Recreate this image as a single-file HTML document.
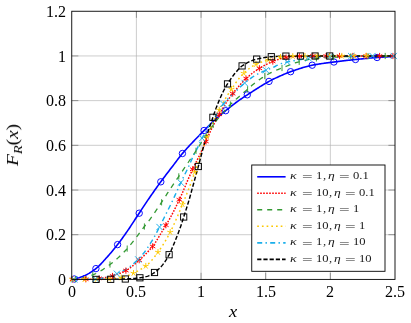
<!DOCTYPE html>
<html><head><meta charset="utf-8"><title>chart</title>
<style>
html,body{margin:0;padding:0;background:#fff;}
body{width:411px;height:323px;position:relative;overflow:hidden;font-family:"Liberation Serif",serif;color:#000;}
.t{position:absolute;font-size:16px;line-height:16px;white-space:nowrap;will-change:transform;}
.xt{transform:translateX(-50%);top:283.7px;}
.yt{text-align:right;width:60px;left:5.5px;}
.lg{position:absolute;font-size:10.5px;line-height:12px;white-space:nowrap;transform-origin:0 50%;will-change:transform;color:#1a1a1a;}
i{font-style:italic;}
</style></head><body>
<svg width="411" height="323" viewBox="0 0 411 323" style="position:absolute;left:0;top:0">
<path d="M136.40 11.25V279.4M201.05 11.25V279.4M265.70 11.25V279.4M330.35 11.25V279.4M71.75 234.71H395.0M71.75 190.02H395.0M71.75 145.32H395.0M71.75 100.63H395.0M71.75 55.94H395.0" stroke="#b2b2b2" stroke-width="0.66" fill="none"/>
<path d="M136.40 279.4v-6.6M136.40 11.25v6.6M201.05 279.4v-6.6M201.05 11.25v6.6M265.70 279.4v-6.6M265.70 11.25v6.6M330.35 279.4v-6.6M330.35 11.25v6.6M71.75 234.71h6.6M395.0 234.71h-6.6M71.75 190.02h6.6M395.0 190.02h-6.6M71.75 145.32h6.6M395.0 145.32h-6.6M71.75 100.63h6.6M395.0 100.63h-6.6M71.75 55.94h6.6M395.0 55.94h-6.6" stroke="#000" stroke-width="0.34" fill="none"/>
<clipPath id="c"><rect x="71.75" y="11.25" width="323.25" height="268.15"/></clipPath>
<g clip-path="url(#c)" fill="none">
<path d="M72.0 279.40 L73.0 279.24 L74.0 279.06 L75.0 278.84 L76.0 278.60 L77.0 278.33 L78.0 278.04 L79.0 277.73 L80.0 277.39 L81.0 277.03 L82.0 276.66 L83.0 276.27 L84.0 275.85 L85.0 275.43 L86.0 274.96 L87.0 274.46 L88.0 273.92 L89.0 273.34 L90.0 272.73 L91.0 272.09 L92.0 271.43 L93.0 270.73 L94.0 270.01 L95.0 269.27 L96.0 268.50 L97.0 267.69 L98.0 266.81 L99.0 265.87 L100.0 264.87 L101.0 263.84 L102.0 262.77 L103.0 261.68 L104.0 260.57 L105.0 259.45 L106.0 258.32 L107.0 257.21 L108.0 256.10 L109.0 254.97 L110.0 253.82 L111.0 252.65 L112.0 251.47 L113.0 250.28 L114.0 249.06 L115.0 247.83 L116.0 246.58 L117.0 245.32 L118.0 244.04 L119.0 242.74 L120.0 241.41 L121.0 240.07 L122.0 238.70 L123.0 237.31 L124.0 235.90 L125.0 234.49 L126.0 233.06 L127.0 231.62 L128.0 230.17 L129.0 228.69 L130.0 227.19 L131.0 225.68 L132.0 224.16 L133.0 222.63 L134.0 221.10 L135.0 219.56 L136.0 218.03 L137.0 216.49 L138.0 214.97 L139.0 213.45 L140.0 211.94 L141.0 210.43 L142.0 208.92 L143.0 207.40 L144.0 205.89 L145.0 204.38 L146.0 202.87 L147.0 201.38 L148.0 199.90 L149.0 198.43 L150.0 196.97 L151.0 195.53 L152.0 194.09 L153.0 192.67 L154.0 191.25 L155.0 189.83 L156.0 188.43 L157.0 187.03 L158.0 185.65 L159.0 184.27 L160.0 182.89 L161.0 181.53 L162.0 180.17 L163.0 178.83 L164.0 177.49 L165.0 176.17 L166.0 174.85 L167.0 173.53 L168.0 172.22 L169.0 170.92 L170.0 169.61 L171.0 168.31 L172.0 167.00 L173.0 165.69 L174.0 164.36 L175.0 163.04 L176.0 161.71 L177.0 160.39 L178.0 159.07 L179.0 157.78 L180.0 156.51 L181.0 155.27 L182.0 154.06 L183.0 152.88 L184.0 151.72 L185.0 150.57 L186.0 149.44 L187.0 148.33 L188.0 147.23 L189.0 146.14 L190.0 145.06 L191.0 143.99 L192.0 142.93 L193.0 141.88 L194.0 140.83 L195.0 139.80 L196.0 138.77 L197.0 137.74 L198.0 136.72 L199.0 135.70 L200.0 134.68 L201.0 133.66 L202.0 132.65 L203.0 131.63 L204.0 130.61 L205.0 129.59 L206.0 128.56 L207.0 127.54 L208.0 126.52 L209.0 125.50 L210.0 124.50 L211.0 123.50 L212.0 122.52 L213.0 121.56 L214.0 120.61 L215.0 119.69 L216.0 118.79 L217.0 117.91 L218.0 117.05 L219.0 116.20 L220.0 115.37 L221.0 114.54 L222.0 113.72 L223.0 112.91 L224.0 112.10 L225.0 111.29 L226.0 110.49 L227.0 109.67 L228.0 108.86 L229.0 108.04 L230.0 107.23 L231.0 106.42 L232.0 105.62 L233.0 104.82 L234.0 104.04 L235.0 103.26 L236.0 102.51 L237.0 101.77 L238.0 101.05 L239.0 100.35 L240.0 99.66 L241.0 98.98 L242.0 98.31 L243.0 97.65 L244.0 97.00 L245.0 96.35 L246.0 95.70 L247.0 95.06 L248.0 94.41 L249.0 93.76 L250.0 93.11 L251.0 92.46 L252.0 91.81 L253.0 91.16 L254.0 90.51 L255.0 89.87 L256.0 89.22 L257.0 88.58 L258.0 87.95 L259.0 87.32 L260.0 86.69 L261.0 86.07 L262.0 85.46 L263.0 84.85 L264.0 84.25 L265.0 83.66 L266.0 83.08 L267.0 82.51 L268.0 81.96 L269.0 81.41 L270.0 80.87 L271.0 80.35 L272.0 79.83 L273.0 79.33 L274.0 78.84 L275.0 78.35 L276.0 77.88 L277.0 77.41 L278.0 76.95 L279.0 76.50 L280.0 76.05 L281.0 75.61 L282.0 75.17 L283.0 74.73 L284.0 74.31 L285.0 73.88 L286.0 73.47 L287.0 73.07 L288.0 72.67 L289.0 72.29 L290.0 71.92 L291.0 71.56 L292.0 71.21 L293.0 70.87 L294.0 70.52 L295.0 70.17 L296.0 69.83 L297.0 69.49 L298.0 69.16 L299.0 68.83 L300.0 68.51 L301.0 68.19 L302.0 67.88 L303.0 67.58 L304.0 67.28 L305.0 67.00 L306.0 66.72 L307.0 66.45 L308.0 66.20 L309.0 65.95 L310.0 65.71 L311.0 65.49 L312.0 65.28 L313.0 65.08 L314.0 64.89 L315.0 64.71 L316.0 64.53 L317.0 64.36 L318.0 64.19 L319.0 64.03 L320.0 63.88 L321.0 63.73 L322.0 63.58 L323.0 63.44 L324.0 63.30 L325.0 63.16 L326.0 63.02 L327.0 62.89 L328.0 62.76 L329.0 62.63 L330.0 62.50 L331.0 62.37 L332.0 62.25 L333.0 62.12 L334.0 61.99 L335.0 61.86 L336.0 61.73 L337.0 61.60 L338.0 61.48 L339.0 61.36 L340.0 61.24 L341.0 61.12 L342.0 61.00 L343.0 60.88 L344.0 60.76 L345.0 60.65 L346.0 60.53 L347.0 60.42 L348.0 60.31 L349.0 60.20 L350.0 60.09 L351.0 59.98 L352.0 59.88 L353.0 59.77 L354.0 59.67 L355.0 59.56 L356.0 59.46 L357.0 59.36 L358.0 59.25 L359.0 59.15 L360.0 59.05 L361.0 58.95 L362.0 58.85 L363.0 58.75 L364.0 58.65 L365.0 58.55 L366.0 58.45 L367.0 58.36 L368.0 58.26 L369.0 58.17 L370.0 58.08 L371.0 57.99 L372.0 57.90 L373.0 57.82 L374.0 57.74 L375.0 57.66 L376.0 57.58 L377.0 57.51 L378.0 57.44 L379.0 57.36 L380.0 57.29 L381.0 57.23 L382.0 57.16 L383.0 57.09 L384.0 57.03 L385.0 56.96 L386.0 56.90 L387.0 56.84 L388.0 56.78 L389.0 56.73 L390.0 56.67 L391.0 56.62 L392.0 56.56 L393.0 56.51 L394.0 56.46 L395.0 56.42 L395.4 56.40" stroke="#0000ff" stroke-width="1.6"/>
<path d="M72.0 279.40 L73.0 279.40 L74.0 279.40 L75.0 279.39 L76.0 279.39 L77.0 279.38 L78.0 279.38 L79.0 279.37 L80.0 279.36 L81.0 279.35 L82.0 279.34 L83.0 279.32 L84.0 279.31 L85.0 279.29 L86.0 279.28 L87.0 279.26 L88.0 279.24 L89.0 279.22 L90.0 279.20 L91.0 279.17 L92.0 279.12 L93.0 279.05 L94.0 278.97 L95.0 278.87 L96.0 278.77 L97.0 278.65 L98.0 278.54 L99.0 278.42 L100.0 278.30 L101.0 278.18 L102.0 278.05 L103.0 277.90 L104.0 277.75 L105.0 277.59 L106.0 277.41 L107.0 277.23 L108.0 277.03 L109.0 276.82 L110.0 276.60 L111.0 276.36 L112.0 276.10 L113.0 275.82 L114.0 275.52 L115.0 275.20 L116.0 274.86 L117.0 274.51 L118.0 274.13 L119.0 273.74 L120.0 273.33 L121.0 272.90 L122.0 272.45 L123.0 271.99 L124.0 271.51 L125.0 271.02 L126.0 270.51 L127.0 269.97 L128.0 269.38 L129.0 268.72 L130.0 268.02 L131.0 267.27 L132.0 266.48 L133.0 265.65 L134.0 264.81 L135.0 263.94 L136.0 263.06 L137.0 262.18 L138.0 261.30 L139.0 260.43 L140.0 259.54 L141.0 258.62 L142.0 257.68 L143.0 256.71 L144.0 255.72 L145.0 254.71 L146.0 253.69 L147.0 252.66 L148.0 251.63 L149.0 250.57 L150.0 249.48 L151.0 248.35 L152.0 247.17 L153.0 245.92 L154.0 244.58 L155.0 243.12 L156.0 241.56 L157.0 239.93 L158.0 238.25 L159.0 236.58 L160.0 234.92 L161.0 233.30 L162.0 231.67 L163.0 230.04 L164.0 228.39 L165.0 226.73 L166.0 225.07 L167.0 223.40 L168.0 221.73 L169.0 220.00 L170.0 218.19 L171.0 216.34 L172.0 214.46 L173.0 212.55 L174.0 210.60 L175.0 208.62 L176.0 206.61 L177.0 204.57 L178.0 202.50 L179.0 200.40 L180.0 198.27 L181.0 196.07 L182.0 193.79 L183.0 191.45 L184.0 189.08 L185.0 186.70 L186.0 184.31 L187.0 181.95 L188.0 179.64 L189.0 177.37 L190.0 175.13 L191.0 172.90 L192.0 170.70 L193.0 168.55 L194.0 166.45 L195.0 164.42 L196.0 162.42 L197.0 160.42 L198.0 158.38 L199.0 156.34 L200.0 154.29 L201.0 152.23 L202.0 150.15 L203.0 148.04 L204.0 145.90 L205.0 143.72 L206.0 141.43 L207.0 139.09 L208.0 136.72 L209.0 134.38 L210.0 132.12 L211.0 129.98 L212.0 127.95 L213.0 125.99 L214.0 124.08 L215.0 122.20 L216.0 120.34 L217.0 118.51 L218.0 116.71 L219.0 114.95 L220.0 113.21 L221.0 111.47 L222.0 109.74 L223.0 108.02 L224.0 106.34 L225.0 104.68 L226.0 103.07 L227.0 101.51 L228.0 100.00 L229.0 98.56 L230.0 97.18 L231.0 95.83 L232.0 94.53 L233.0 93.25 L234.0 91.99 L235.0 90.76 L236.0 89.56 L237.0 88.38 L238.0 87.22 L239.0 86.08 L240.0 84.95 L241.0 83.82 L242.0 82.71 L243.0 81.61 L244.0 80.55 L245.0 79.54 L246.0 78.59 L247.0 77.69 L248.0 76.82 L249.0 75.96 L250.0 75.12 L251.0 74.31 L252.0 73.51 L253.0 72.74 L254.0 71.99 L255.0 71.25 L256.0 70.55 L257.0 69.86 L258.0 69.20 L259.0 68.56 L260.0 67.94 L261.0 67.34 L262.0 66.76 L263.0 66.19 L264.0 65.64 L265.0 65.10 L266.0 64.58 L267.0 64.07 L268.0 63.58 L269.0 63.11 L270.0 62.66 L271.0 62.22 L272.0 61.80 L273.0 61.40 L274.0 61.00 L275.0 60.62 L276.0 60.24 L277.0 59.88 L278.0 59.54 L279.0 59.22 L280.0 58.92 L281.0 58.64 L282.0 58.40 L283.0 58.18 L284.0 57.96 L285.0 57.76 L286.0 57.57 L287.0 57.40 L288.0 57.25 L289.0 57.11 L290.0 57.00 L291.0 56.90 L292.0 56.81 L293.0 56.72 L294.0 56.63 L295.0 56.56 L296.0 56.49 L297.0 56.43 L298.0 56.37 L299.0 56.33 L300.0 56.30 L301.0 56.27 L302.0 56.25 L303.0 56.22 L304.0 56.20 L305.0 56.18 L306.0 56.16 L307.0 56.14 L308.0 56.12 L309.0 56.10 L310.0 56.08 L311.0 56.07 L312.0 56.05 L313.0 56.04 L314.0 56.03 L315.0 56.02 L316.0 56.01 L317.0 56.01 L318.0 56.00 L319.0 56.00 L320.0 56.00 L321.0 56.00 L322.0 56.00 L323.0 56.00 L324.0 56.00 L325.0 56.00 L326.0 56.00 L327.0 56.00 L328.0 56.00 L329.0 56.00 L330.0 56.00 L331.0 56.00 L332.0 56.00 L333.0 56.00 L334.0 56.00 L335.0 56.00 L336.0 56.00 L337.0 56.00 L338.0 56.00 L339.0 56.00 L340.0 56.00 L341.0 56.00 L342.0 56.00 L343.0 56.00 L344.0 56.00 L345.0 56.00 L346.0 56.00 L347.0 56.00 L348.0 56.00 L349.0 56.00 L350.0 56.00 L351.0 56.00 L352.0 56.00 L353.0 56.00 L354.0 56.00 L355.0 56.00 L356.0 56.00 L357.0 56.00 L358.0 56.00 L359.0 56.00 L360.0 56.00 L361.0 56.00 L362.0 56.00 L363.0 56.00 L364.0 56.00 L365.0 56.00 L366.0 56.00 L367.0 56.00 L368.0 56.00 L369.0 56.00 L370.0 56.00 L371.0 56.00 L372.0 56.00 L373.0 56.00 L374.0 56.00 L375.0 56.00 L376.0 56.00 L377.0 56.00 L378.0 56.00 L379.0 56.00 L380.0 56.00 L381.0 56.00 L382.0 56.00 L383.0 56.00 L384.0 56.00 L385.0 56.00 L386.0 56.00 L387.0 56.00 L388.0 56.00 L389.0 56.00 L390.0 56.00 L391.0 56.00 L392.0 56.00 L393.0 56.00 L394.0 56.00 L395.0 56.00 L395.4 56.00" stroke="#ff0000" stroke-width="1.45" stroke-dasharray="1.6 1.4"/>
<path d="M72.0 279.40 L73.0 279.35 L74.0 279.28 L75.0 279.20 L76.0 279.10 L77.0 278.98 L78.0 278.85 L79.0 278.69 L80.0 278.51 L81.0 278.31 L82.0 278.09 L83.0 277.85 L84.0 277.60 L85.0 277.33 L86.0 277.05 L87.0 276.75 L88.0 276.45 L89.0 276.13 L90.0 275.79 L91.0 275.45 L92.0 275.10 L93.0 274.75 L94.0 274.37 L95.0 273.96 L96.0 273.51 L97.0 273.02 L98.0 272.50 L99.0 271.95 L100.0 271.36 L101.0 270.75 L102.0 270.12 L103.0 269.46 L104.0 268.79 L105.0 268.10 L106.0 267.40 L107.0 266.68 L108.0 265.96 L109.0 265.23 L110.0 264.50 L111.0 263.76 L112.0 262.99 L113.0 262.19 L114.0 261.37 L115.0 260.53 L116.0 259.67 L117.0 258.78 L118.0 257.88 L119.0 256.95 L120.0 256.00 L121.0 255.03 L122.0 254.05 L123.0 253.05 L124.0 252.03 L125.0 250.99 L126.0 249.94 L127.0 248.87 L128.0 247.75 L129.0 246.58 L130.0 245.37 L131.0 244.12 L132.0 242.85 L133.0 241.56 L134.0 240.25 L135.0 238.94 L136.0 237.64 L137.0 236.34 L138.0 235.03 L139.0 233.70 L140.0 232.35 L141.0 231.00 L142.0 229.65 L143.0 228.32 L144.0 227.01 L145.0 225.74 L146.0 224.48 L147.0 223.23 L148.0 221.97 L149.0 220.67 L150.0 219.32 L151.0 217.94 L152.0 216.53 L153.0 215.10 L154.0 213.65 L155.0 212.18 L156.0 210.70 L157.0 209.21 L158.0 207.71 L159.0 206.21 L160.0 204.70 L161.0 203.20 L162.0 201.69 L163.0 200.17 L164.0 198.63 L165.0 197.08 L166.0 195.53 L167.0 193.97 L168.0 192.42 L169.0 190.87 L170.0 189.33 L171.0 187.81 L172.0 186.30 L173.0 184.81 L174.0 183.34 L175.0 181.88 L176.0 180.43 L177.0 178.99 L178.0 177.54 L179.0 176.09 L180.0 174.63 L181.0 173.16 L182.0 171.68 L183.0 170.20 L184.0 168.71 L185.0 167.22 L186.0 165.73 L187.0 164.24 L188.0 162.74 L189.0 161.25 L190.0 159.75 L191.0 158.25 L192.0 156.77 L193.0 155.29 L194.0 153.81 L195.0 152.33 L196.0 150.84 L197.0 149.34 L198.0 147.82 L199.0 146.28 L200.0 144.72 L201.0 143.10 L202.0 141.42 L203.0 139.71 L204.0 138.00 L205.0 136.36 L206.0 134.80 L207.0 133.31 L208.0 131.87 L209.0 130.48 L210.0 129.10 L211.0 127.75 L212.0 126.40 L213.0 125.06 L214.0 123.73 L215.0 122.41 L216.0 121.11 L217.0 119.83 L218.0 118.58 L219.0 117.36 L220.0 116.15 L221.0 114.95 L222.0 113.76 L223.0 112.59 L224.0 111.43 L225.0 110.29 L226.0 109.16 L227.0 108.06 L228.0 106.98 L229.0 105.93 L230.0 104.90 L231.0 103.91 L232.0 102.94 L233.0 102.01 L234.0 101.10 L235.0 100.20 L236.0 99.31 L237.0 98.43 L238.0 97.55 L239.0 96.67 L240.0 95.80 L241.0 94.93 L242.0 94.07 L243.0 93.22 L244.0 92.37 L245.0 91.52 L246.0 90.66 L247.0 89.80 L248.0 88.92 L249.0 88.03 L250.0 87.13 L251.0 86.23 L252.0 85.35 L253.0 84.49 L254.0 83.66 L255.0 82.87 L256.0 82.10 L257.0 81.35 L258.0 80.62 L259.0 79.90 L260.0 79.20 L261.0 78.51 L262.0 77.85 L263.0 77.21 L264.0 76.58 L265.0 75.98 L266.0 75.39 L267.0 74.81 L268.0 74.25 L269.0 73.70 L270.0 73.17 L271.0 72.65 L272.0 72.15 L273.0 71.67 L274.0 71.20 L275.0 70.76 L276.0 70.33 L277.0 69.92 L278.0 69.53 L279.0 69.14 L280.0 68.76 L281.0 68.38 L282.0 68.00 L283.0 67.61 L284.0 67.22 L285.0 66.82 L286.0 66.41 L287.0 66.01 L288.0 65.61 L289.0 65.21 L290.0 64.82 L291.0 64.43 L292.0 64.05 L293.0 63.69 L294.0 63.33 L295.0 62.99 L296.0 62.67 L297.0 62.36 L298.0 62.08 L299.0 61.81 L300.0 61.55 L301.0 61.29 L302.0 61.04 L303.0 60.79 L304.0 60.54 L305.0 60.31 L306.0 60.08 L307.0 59.86 L308.0 59.65 L309.0 59.46 L310.0 59.27 L311.0 59.10 L312.0 58.94 L313.0 58.80 L314.0 58.67 L315.0 58.56 L316.0 58.45 L317.0 58.35 L318.0 58.25 L319.0 58.16 L320.0 58.07 L321.0 57.99 L322.0 57.91 L323.0 57.83 L324.0 57.75 L325.0 57.68 L326.0 57.62 L327.0 57.55 L328.0 57.49 L329.0 57.43 L330.0 57.37 L331.0 57.32 L332.0 57.26 L333.0 57.21 L334.0 57.17 L335.0 57.12 L336.0 57.07 L337.0 57.03 L338.0 56.98 L339.0 56.94 L340.0 56.90 L341.0 56.86 L342.0 56.82 L343.0 56.78 L344.0 56.74 L345.0 56.70 L346.0 56.66 L347.0 56.63 L348.0 56.59 L349.0 56.56 L350.0 56.53 L351.0 56.50 L352.0 56.47 L353.0 56.44 L354.0 56.42 L355.0 56.39 L356.0 56.37 L357.0 56.35 L358.0 56.33 L359.0 56.31 L360.0 56.30 L361.0 56.29 L362.0 56.27 L363.0 56.26 L364.0 56.25 L365.0 56.23 L366.0 56.22 L367.0 56.21 L368.0 56.19 L369.0 56.18 L370.0 56.17 L371.0 56.16 L372.0 56.15 L373.0 56.14 L374.0 56.13 L375.0 56.11 L376.0 56.10 L377.0 56.09 L378.0 56.09 L379.0 56.08 L380.0 56.07 L381.0 56.06 L382.0 56.05 L383.0 56.05 L384.0 56.04 L385.0 56.03 L386.0 56.03 L387.0 56.02 L388.0 56.02 L389.0 56.01 L390.0 56.01 L391.0 56.01 L392.0 56.00 L393.0 56.00 L394.0 56.00 L395.0 56.00 L395.4 56.00" stroke="#339933" stroke-width="1.3" stroke-dasharray="5 5"/>
<path d="M72.0 279.40 L73.0 279.40 L74.0 279.40 L75.0 279.40 L76.0 279.40 L77.0 279.40 L78.0 279.40 L79.0 279.39 L80.0 279.39 L81.0 279.39 L82.0 279.39 L83.0 279.39 L84.0 279.38 L85.0 279.38 L86.0 279.38 L87.0 279.37 L88.0 279.37 L89.0 279.36 L90.0 279.36 L91.0 279.36 L92.0 279.35 L93.0 279.34 L94.0 279.34 L95.0 279.33 L96.0 279.33 L97.0 279.32 L98.0 279.31 L99.0 279.31 L100.0 279.30 L101.0 279.29 L102.0 279.27 L103.0 279.25 L104.0 279.21 L105.0 279.18 L106.0 279.13 L107.0 279.09 L108.0 279.04 L109.0 278.98 L110.0 278.92 L111.0 278.86 L112.0 278.80 L113.0 278.73 L114.0 278.65 L115.0 278.55 L116.0 278.44 L117.0 278.32 L118.0 278.19 L119.0 278.04 L120.0 277.89 L121.0 277.72 L122.0 277.53 L123.0 277.34 L124.0 277.10 L125.0 276.81 L126.0 276.48 L127.0 276.11 L128.0 275.71 L129.0 275.28 L130.0 274.84 L131.0 274.38 L132.0 273.91 L133.0 273.43 L134.0 272.96 L135.0 272.48 L136.0 271.98 L137.0 271.47 L138.0 270.94 L139.0 270.38 L140.0 269.81 L141.0 269.21 L142.0 268.58 L143.0 267.93 L144.0 267.25 L145.0 266.54 L146.0 265.80 L147.0 265.02 L148.0 264.13 L149.0 263.16 L150.0 262.13 L151.0 261.05 L152.0 259.94 L153.0 258.76 L154.0 257.53 L155.0 256.24 L156.0 254.92 L157.0 253.56 L158.0 252.18 L159.0 250.78 L160.0 249.36 L161.0 247.90 L162.0 246.41 L163.0 244.87 L164.0 243.29 L165.0 241.67 L166.0 239.98 L167.0 238.24 L168.0 236.44 L169.0 234.58 L170.0 232.67 L171.0 230.70 L172.0 228.65 L173.0 226.50 L174.0 224.29 L175.0 222.04 L176.0 219.77 L177.0 217.48 L178.0 215.15 L179.0 212.79 L180.0 210.41 L181.0 208.00 L182.0 205.58 L183.0 203.14 L184.0 200.70 L185.0 198.26 L186.0 195.80 L187.0 193.32 L188.0 190.80 L189.0 188.24 L190.0 185.63 L191.0 182.95 L192.0 180.18 L193.0 177.34 L194.0 174.46 L195.0 171.57 L196.0 168.67 L197.0 165.75 L198.0 162.81 L199.0 159.88 L200.0 156.95 L201.0 153.99 L202.0 151.01 L203.0 148.05 L204.0 145.12 L205.0 142.26 L206.0 139.48 L207.0 136.80 L208.0 134.17 L209.0 131.60 L210.0 129.10 L211.0 126.70 L212.0 124.40 L213.0 122.21 L214.0 120.11 L215.0 118.08 L216.0 116.10 L217.0 114.16 L218.0 112.25 L219.0 110.34 L220.0 108.43 L221.0 106.54 L222.0 104.67 L223.0 102.84 L224.0 101.04 L225.0 99.29 L226.0 97.59 L227.0 95.96 L228.0 94.40 L229.0 92.91 L230.0 91.44 L231.0 89.99 L232.0 88.50 L233.0 86.98 L234.0 85.46 L235.0 83.95 L236.0 82.50 L237.0 81.13 L238.0 79.83 L239.0 78.55 L240.0 77.31 L241.0 76.13 L242.0 75.01 L243.0 73.98 L244.0 73.04 L245.0 72.12 L246.0 71.23 L247.0 70.37 L248.0 69.53 L249.0 68.73 L250.0 67.97 L251.0 67.24 L252.0 66.56 L253.0 65.92 L254.0 65.33 L255.0 64.80 L256.0 64.31 L257.0 63.86 L258.0 63.43 L259.0 63.03 L260.0 62.64 L261.0 62.28 L262.0 61.93 L263.0 61.60 L264.0 61.28 L265.0 60.98 L266.0 60.68 L267.0 60.39 L268.0 60.10 L269.0 59.81 L270.0 59.52 L271.0 59.23 L272.0 58.95 L273.0 58.67 L274.0 58.40 L275.0 58.14 L276.0 57.90 L277.0 57.69 L278.0 57.49 L279.0 57.32 L280.0 57.18 L281.0 57.07 L282.0 56.97 L283.0 56.88 L284.0 56.79 L285.0 56.71 L286.0 56.63 L287.0 56.56 L288.0 56.49 L289.0 56.43 L290.0 56.37 L291.0 56.32 L292.0 56.28 L293.0 56.25 L294.0 56.22 L295.0 56.20 L296.0 56.18 L297.0 56.17 L298.0 56.16 L299.0 56.14 L300.0 56.13 L301.0 56.12 L302.0 56.11 L303.0 56.10 L304.0 56.08 L305.0 56.07 L306.0 56.07 L307.0 56.06 L308.0 56.05 L309.0 56.04 L310.0 56.03 L311.0 56.03 L312.0 56.02 L313.0 56.02 L314.0 56.01 L315.0 56.01 L316.0 56.01 L317.0 56.00 L318.0 56.00 L319.0 56.00 L320.0 56.00 L321.0 56.00 L322.0 56.00 L323.0 56.00 L324.0 56.00 L325.0 56.00 L326.0 56.00 L327.0 56.00 L328.0 56.00 L329.0 56.00 L330.0 56.00 L331.0 56.00 L332.0 56.00 L333.0 56.00 L334.0 56.00 L335.0 56.00 L336.0 56.00 L337.0 56.00 L338.0 56.00 L339.0 56.00 L340.0 56.00 L341.0 56.00 L342.0 56.00 L343.0 56.00 L344.0 56.00 L345.0 56.00 L346.0 56.00 L347.0 56.00 L348.0 56.00 L349.0 56.00 L350.0 56.00 L351.0 56.00 L352.0 56.00 L353.0 56.00 L354.0 56.00 L355.0 56.00 L356.0 56.00 L357.0 56.00 L358.0 56.00 L359.0 56.00 L360.0 56.00 L361.0 56.00 L362.0 56.00 L363.0 56.00 L364.0 56.00 L365.0 56.00 L366.0 56.00 L367.0 56.00 L368.0 56.00 L369.0 56.00 L370.0 56.00 L371.0 56.00 L372.0 56.00 L373.0 56.00 L374.0 56.00 L375.0 56.00 L376.0 56.00 L377.0 56.00 L378.0 56.00 L379.0 56.00 L380.0 56.00 L381.0 56.00 L382.0 56.00 L383.0 56.00 L384.0 56.00 L385.0 56.00 L386.0 56.00 L387.0 56.00 L388.0 56.00 L389.0 56.00 L390.0 56.00 L391.0 56.00 L392.0 56.00 L393.0 56.00 L394.0 56.00 L395.0 56.00 L395.4 56.00" stroke="#fcc800" stroke-width="1.45" stroke-dasharray="1.7 3.0"/>
<path d="M72.0 279.40 L73.0 279.40 L74.0 279.40 L75.0 279.39 L76.0 279.39 L77.0 279.38 L78.0 279.38 L79.0 279.37 L80.0 279.36 L81.0 279.35 L82.0 279.33 L83.0 279.32 L84.0 279.31 L85.0 279.29 L86.0 279.28 L87.0 279.26 L88.0 279.24 L89.0 279.22 L90.0 279.20 L91.0 279.17 L92.0 279.13 L93.0 279.07 L94.0 279.00 L95.0 278.92 L96.0 278.83 L97.0 278.73 L98.0 278.61 L99.0 278.49 L100.0 278.36 L101.0 278.22 L102.0 278.07 L103.0 277.92 L104.0 277.76 L105.0 277.60 L106.0 277.41 L107.0 277.19 L108.0 276.93 L109.0 276.63 L110.0 276.31 L111.0 275.96 L112.0 275.60 L113.0 275.22 L114.0 274.82 L115.0 274.42 L116.0 274.02 L117.0 273.62 L118.0 273.21 L119.0 272.77 L120.0 272.32 L121.0 271.85 L122.0 271.36 L123.0 270.85 L124.0 270.31 L125.0 269.75 L126.0 269.16 L127.0 268.55 L128.0 267.90 L129.0 267.21 L130.0 266.49 L131.0 265.73 L132.0 264.94 L133.0 264.12 L134.0 263.27 L135.0 262.39 L136.0 261.49 L137.0 260.56 L138.0 259.62 L139.0 258.62 L140.0 257.56 L141.0 256.45 L142.0 255.29 L143.0 254.08 L144.0 252.82 L145.0 251.50 L146.0 250.12 L147.0 248.68 L148.0 247.20 L149.0 245.67 L150.0 244.10 L151.0 242.49 L152.0 240.85 L153.0 239.18 L154.0 237.47 L155.0 235.67 L156.0 233.80 L157.0 231.88 L158.0 229.94 L159.0 227.98 L160.0 226.03 L161.0 224.03 L162.0 222.01 L163.0 220.00 L164.0 218.00 L165.0 216.01 L166.0 214.03 L167.0 212.05 L168.0 210.05 L169.0 208.05 L170.0 206.03 L171.0 203.98 L172.0 201.90 L173.0 199.78 L174.0 197.61 L175.0 195.42 L176.0 193.20 L177.0 190.97 L178.0 188.75 L179.0 186.54 L180.0 184.36 L181.0 182.21 L182.0 180.12 L183.0 178.07 L184.0 176.05 L185.0 174.04 L186.0 172.02 L187.0 169.97 L188.0 167.87 L189.0 165.70 L190.0 163.42 L191.0 161.12 L192.0 158.87 L193.0 156.74 L194.0 154.71 L195.0 152.73 L196.0 150.77 L197.0 148.81 L198.0 146.82 L199.0 144.74 L200.0 142.58 L201.0 140.44 L202.0 138.39 L203.0 136.49 L204.0 134.65 L205.0 132.87 L206.0 131.15 L207.0 129.46 L208.0 127.80 L209.0 126.18 L210.0 124.62 L211.0 123.09 L212.0 121.59 L213.0 120.10 L214.0 118.60 L215.0 117.09 L216.0 115.56 L217.0 113.96 L218.0 112.31 L219.0 110.63 L220.0 108.97 L221.0 107.36 L222.0 105.85 L223.0 104.47 L224.0 103.19 L225.0 101.98 L226.0 100.83 L227.0 99.73 L228.0 98.66 L229.0 97.62 L230.0 96.60 L231.0 95.61 L232.0 94.65 L233.0 93.73 L234.0 92.82 L235.0 91.93 L236.0 91.02 L237.0 90.11 L238.0 89.17 L239.0 88.22 L240.0 87.27 L241.0 86.32 L242.0 85.39 L243.0 84.49 L244.0 83.62 L245.0 82.79 L246.0 81.97 L247.0 81.17 L248.0 80.38 L249.0 79.61 L250.0 78.85 L251.0 78.13 L252.0 77.43 L253.0 76.76 L254.0 76.12 L255.0 75.52 L256.0 74.96 L257.0 74.42 L258.0 73.90 L259.0 73.40 L260.0 72.91 L261.0 72.44 L262.0 71.98 L263.0 71.53 L264.0 71.09 L265.0 70.64 L266.0 70.21 L267.0 69.80 L268.0 69.41 L269.0 69.02 L270.0 68.64 L271.0 68.25 L272.0 67.85 L273.0 67.44 L274.0 67.00 L275.0 66.51 L276.0 65.97 L277.0 65.41 L278.0 64.87 L279.0 64.39 L280.0 64.00 L281.0 63.68 L282.0 63.38 L283.0 63.09 L284.0 62.82 L285.0 62.56 L286.0 62.32 L287.0 62.09 L288.0 61.87 L289.0 61.66 L290.0 61.45 L291.0 61.26 L292.0 61.07 L293.0 60.88 L294.0 60.70 L295.0 60.53 L296.0 60.35 L297.0 60.18 L298.0 60.00 L299.0 59.82 L300.0 59.65 L301.0 59.48 L302.0 59.31 L303.0 59.14 L304.0 58.98 L305.0 58.82 L306.0 58.67 L307.0 58.52 L308.0 58.38 L309.0 58.25 L310.0 58.12 L311.0 58.01 L312.0 57.90 L313.0 57.80 L314.0 57.71 L315.0 57.62 L316.0 57.53 L317.0 57.45 L318.0 57.36 L319.0 57.29 L320.0 57.21 L321.0 57.14 L322.0 57.07 L323.0 57.00 L324.0 56.94 L325.0 56.88 L326.0 56.82 L327.0 56.77 L328.0 56.72 L329.0 56.67 L330.0 56.64 L331.0 56.60 L332.0 56.57 L333.0 56.53 L334.0 56.50 L335.0 56.47 L336.0 56.44 L337.0 56.41 L338.0 56.38 L339.0 56.35 L340.0 56.32 L341.0 56.29 L342.0 56.27 L343.0 56.24 L344.0 56.22 L345.0 56.19 L346.0 56.17 L347.0 56.15 L348.0 56.13 L349.0 56.11 L350.0 56.09 L351.0 56.07 L352.0 56.06 L353.0 56.05 L354.0 56.03 L355.0 56.02 L356.0 56.02 L357.0 56.01 L358.0 56.00 L359.0 56.00 L360.0 56.00 L361.0 56.00 L362.0 56.00 L363.0 56.00 L364.0 56.00 L365.0 56.00 L366.0 56.00 L367.0 56.00 L368.0 56.00 L369.0 56.00 L370.0 56.00 L371.0 56.00 L372.0 56.00 L373.0 56.00 L374.0 56.00 L375.0 56.00 L376.0 56.00 L377.0 56.00 L378.0 56.00 L379.0 56.00 L380.0 56.00 L381.0 56.00 L382.0 56.00 L383.0 56.00 L384.0 56.00 L385.0 56.00 L386.0 56.00 L387.0 56.00 L388.0 56.00 L389.0 56.00 L390.0 56.00 L391.0 56.00 L392.0 56.00 L393.0 56.00 L394.0 56.00 L395.0 56.00 L395.4 56.00" stroke="#1aaeea" stroke-width="1.45" stroke-dasharray="5 3.3 1.4 3.3"/>
<path d="M96.0 279.40 L97.0 279.40 L98.0 279.40 L99.0 279.40 L100.0 279.39 L101.0 279.39 L102.0 279.38 L103.0 279.38 L104.0 279.37 L105.0 279.36 L106.0 279.35 L107.0 279.34 L108.0 279.33 L109.0 279.32 L110.0 279.30 L111.0 279.29 L112.0 279.27 L113.0 279.26 L114.0 279.24 L115.0 279.23 L116.0 279.21 L117.0 279.19 L118.0 279.17 L119.0 279.15 L120.0 279.13 L121.0 279.11 L122.0 279.08 L123.0 279.06 L124.0 279.03 L125.0 279.01 L126.0 278.98 L127.0 278.95 L128.0 278.90 L129.0 278.84 L130.0 278.78 L131.0 278.71 L132.0 278.63 L133.0 278.54 L134.0 278.45 L135.0 278.35 L136.0 278.24 L137.0 278.13 L138.0 278.02 L139.0 277.90 L140.0 277.77 L141.0 277.64 L142.0 277.48 L143.0 277.31 L144.0 277.11 L145.0 276.89 L146.0 276.64 L147.0 276.37 L148.0 276.07 L149.0 275.69 L150.0 275.23 L151.0 274.71 L152.0 274.13 L153.0 273.50 L154.0 272.84 L155.0 272.16 L156.0 271.43 L157.0 270.63 L158.0 269.76 L159.0 268.82 L160.0 267.82 L161.0 266.76 L162.0 265.63 L163.0 264.42 L164.0 263.08 L165.0 261.63 L166.0 260.07 L167.0 258.41 L168.0 256.67 L169.0 254.85 L170.0 252.93 L171.0 250.82 L172.0 248.55 L173.0 246.16 L174.0 243.72 L175.0 241.25 L176.0 238.77 L177.0 236.25 L178.0 233.66 L179.0 231.01 L180.0 228.27 L181.0 225.44 L182.0 222.49 L183.0 219.27 L184.0 216.05 L185.0 212.94 L186.0 209.86 L187.0 206.76 L188.0 203.55 L189.0 200.20 L190.0 196.69 L191.0 193.08 L192.0 189.41 L193.0 185.75 L194.0 182.14 L195.0 178.53 L196.0 174.93 L197.0 171.29 L198.0 167.61 L199.0 163.86 L200.0 160.04 L201.0 156.24 L202.0 152.42 L203.0 148.61 L204.0 144.92 L205.0 141.44 L206.0 138.13 L207.0 134.95 L208.0 131.85 L209.0 128.80 L210.0 125.82 L211.0 122.92 L212.0 120.00 L213.0 116.99 L214.0 113.98 L215.0 111.13 L216.0 108.43 L217.0 105.82 L218.0 103.31 L219.0 100.88 L220.0 98.54 L221.0 96.27 L222.0 94.07 L223.0 91.97 L224.0 89.99 L225.0 88.13 L226.0 86.37 L227.0 84.69 L228.0 83.10 L229.0 81.56 L230.0 80.06 L231.0 78.60 L232.0 77.18 L233.0 75.83 L234.0 74.53 L235.0 73.30 L236.0 72.10 L237.0 70.91 L238.0 69.75 L239.0 68.65 L240.0 67.65 L241.0 66.75 L242.0 66.00 L243.0 65.34 L244.0 64.71 L245.0 64.10 L246.0 63.52 L247.0 62.97 L248.0 62.45 L249.0 61.96 L250.0 61.49 L251.0 61.05 L252.0 60.65 L253.0 60.27 L254.0 59.93 L255.0 59.61 L256.0 59.33 L257.0 59.08 L258.0 58.84 L259.0 58.62 L260.0 58.40 L261.0 58.19 L262.0 58.00 L263.0 57.81 L264.0 57.64 L265.0 57.47 L266.0 57.32 L267.0 57.18 L268.0 57.06 L269.0 56.94 L270.0 56.84 L271.0 56.76 L272.0 56.69 L273.0 56.62 L274.0 56.56 L275.0 56.50 L276.0 56.45 L277.0 56.39 L278.0 56.35 L279.0 56.30 L280.0 56.26 L281.0 56.22 L282.0 56.19 L283.0 56.16 L284.0 56.14 L285.0 56.12 L286.0 56.10 L287.0 56.09 L288.0 56.08 L289.0 56.07 L290.0 56.06 L291.0 56.05 L292.0 56.04 L293.0 56.03 L294.0 56.02 L295.0 56.02 L296.0 56.01 L297.0 56.01 L298.0 56.00 L299.0 56.00 L300.0 56.00 L301.0 56.00 L302.0 56.00 L303.0 56.00 L304.0 56.00 L305.0 56.00 L306.0 56.00 L307.0 56.00 L308.0 56.00 L309.0 56.00 L310.0 56.00 L311.0 56.00 L312.0 56.00 L313.0 56.00 L314.0 56.00 L315.0 56.00 L316.0 56.00 L317.0 56.00 L318.0 56.00 L319.0 56.00 L320.0 56.00 L321.0 56.00 L322.0 56.00 L323.0 56.00 L324.0 56.00 L325.0 56.00 L326.0 56.00 L327.0 56.00 L328.0 56.00 L329.0 56.00 L330.0 56.00 L331.0 56.00 L332.0 56.00 L333.0 56.00 L334.0 56.00 L335.0 56.00 L336.0 56.00 L337.0 56.00 L338.0 56.00 L339.0 56.00 L340.0 56.00 L341.0 56.00 L342.0 56.00 L343.0 56.00 L344.0 56.00 L345.0 56.00 L346.0 56.00 L347.0 56.00 L348.0 56.00 L349.0 56.00 L350.0 56.00 L351.0 56.00 L352.0 56.00 L353.0 56.00 L354.0 56.00 L355.0 56.00 L356.0 56.00 L357.0 56.00 L358.0 56.00 L359.0 56.00 L360.0 56.00 L361.0 56.00 L362.0 56.00 L363.0 56.00 L364.0 56.00 L365.0 56.00 L366.0 56.00 L367.0 56.00 L368.0 56.00 L369.0 56.00 L370.0 56.00 L371.0 56.00 L372.0 56.00 L373.0 56.00 L374.0 56.00 L375.0 56.00 L376.0 56.00 L377.0 56.00 L378.0 56.00 L379.0 56.00 L380.0 56.00 L381.0 56.00 L382.0 56.00 L383.0 56.00 L384.0 56.00 L385.0 56.00 L386.0 56.00 L387.0 56.00 L388.0 56.00 L389.0 56.00 L390.0 56.00 L391.0 56.00 L392.0 56.00 L393.0 56.00 L394.0 56.00 L395.0 56.00 L395.4 56.00" stroke="#000000" stroke-width="1.45" stroke-dasharray="4.2 2.0"/>
</g>
<g fill="none">
<circle cx="74.3" cy="279.0" r="3.2" fill="none" stroke="#0000ff" stroke-width="0.95"/>
<circle cx="95.9" cy="268.6" r="3.2" fill="none" stroke="#0000ff" stroke-width="0.95"/>
<circle cx="117.6" cy="244.6" r="3.2" fill="none" stroke="#0000ff" stroke-width="0.95"/>
<circle cx="139.2" cy="213.2" r="3.2" fill="none" stroke="#0000ff" stroke-width="0.95"/>
<circle cx="160.8" cy="181.8" r="3.2" fill="none" stroke="#0000ff" stroke-width="0.95"/>
<circle cx="182.4" cy="153.5" r="3.2" fill="none" stroke="#0000ff" stroke-width="0.95"/>
<circle cx="204.1" cy="130.5" r="3.2" fill="none" stroke="#0000ff" stroke-width="0.95"/>
<circle cx="225.7" cy="110.7" r="3.2" fill="none" stroke="#0000ff" stroke-width="0.95"/>
<circle cx="247.3" cy="94.8" r="3.2" fill="none" stroke="#0000ff" stroke-width="0.95"/>
<circle cx="269.0" cy="81.4" r="3.2" fill="none" stroke="#0000ff" stroke-width="0.95"/>
<circle cx="290.6" cy="71.7" r="3.2" fill="none" stroke="#0000ff" stroke-width="0.95"/>
<circle cx="312.2" cy="65.2" r="3.2" fill="none" stroke="#0000ff" stroke-width="0.95"/>
<circle cx="333.9" cy="62.0" r="3.2" fill="none" stroke="#0000ff" stroke-width="0.95"/>
<circle cx="355.5" cy="59.5" r="3.2" fill="none" stroke="#0000ff" stroke-width="0.95"/>
<circle cx="377.1" cy="57.5" r="3.2" fill="none" stroke="#0000ff" stroke-width="0.95"/>
<path d="M72.5 276.3L72.5 282.5M69.8 277.8L75.2 280.9M69.8 280.9L75.2 277.8" stroke="#ff0000" stroke-width="0.95"/>
<path d="M85.8 276.2L85.8 282.4M83.2 277.7L88.5 280.8M83.2 280.8L88.5 277.7" stroke="#ff0000" stroke-width="0.95"/>
<path d="M99.2 275.3L99.2 281.5M96.5 276.8L101.9 279.9M96.5 279.9L101.9 276.8" stroke="#ff0000" stroke-width="0.95"/>
<path d="M112.5 272.9L112.5 279.1M109.9 274.4L115.2 277.5M109.9 277.5L115.2 274.4" stroke="#ff0000" stroke-width="0.95"/>
<path d="M125.9 267.5L125.9 273.7M123.2 269.0L128.6 272.1M123.2 272.1L128.6 269.0" stroke="#ff0000" stroke-width="0.95"/>
<path d="M139.2 257.1L139.2 263.3M136.6 258.7L141.9 261.8M136.6 261.8L141.9 258.7" stroke="#ff0000" stroke-width="0.95"/>
<path d="M152.6 243.3L152.6 249.5M149.9 244.9L155.3 248.0M149.9 248.0L155.3 244.9" stroke="#ff0000" stroke-width="0.95"/>
<path d="M165.9 222.1L165.9 228.3M163.3 223.6L168.6 226.7M163.3 226.7L168.6 223.6" stroke="#ff0000" stroke-width="0.95"/>
<path d="M179.3 196.7L179.3 202.9M176.6 198.2L182.0 201.3M176.6 201.3L182.0 198.2" stroke="#ff0000" stroke-width="0.95"/>
<path d="M192.6 166.2L192.6 172.4M190.0 167.7L195.3 170.8M190.0 170.8L195.3 167.7" stroke="#ff0000" stroke-width="0.95"/>
<path d="M206.0 138.3L206.0 144.5M203.3 139.9L208.7 143.0M203.3 143.0L208.7 139.9" stroke="#ff0000" stroke-width="0.95"/>
<path d="M219.3 111.2L219.3 117.4M216.7 112.8L222.0 115.9M216.7 115.9L222.0 112.8" stroke="#ff0000" stroke-width="0.95"/>
<path d="M232.7 90.5L232.7 96.7M230.0 92.1L235.4 95.2M230.0 95.2L235.4 92.1" stroke="#ff0000" stroke-width="0.95"/>
<path d="M246.0 75.4L246.0 81.6M243.4 77.0L248.7 80.1M243.4 80.1L248.7 77.0" stroke="#ff0000" stroke-width="0.95"/>
<path d="M259.4 65.2L259.4 71.4M256.7 66.8L262.1 69.9M256.7 69.9L262.1 66.8" stroke="#ff0000" stroke-width="0.95"/>
<path d="M272.8 58.4L272.8 64.6M270.1 59.9L275.4 63.0M270.1 63.0L275.4 59.9" stroke="#ff0000" stroke-width="0.95"/>
<path d="M286.1 54.5L286.1 60.7M283.4 56.0L288.8 59.1M283.4 59.1L288.8 56.0" stroke="#ff0000" stroke-width="0.95"/>
<path d="M299.4 53.2L299.4 59.4M296.8 54.8L302.1 57.9M296.8 57.9L302.1 54.8" stroke="#ff0000" stroke-width="0.95"/>
<path d="M312.8 52.9L312.8 59.1M310.1 54.5L315.5 57.6M310.1 57.6L315.5 54.5" stroke="#ff0000" stroke-width="0.95"/>
<path d="M326.1 52.9L326.1 59.1M323.5 54.5L328.8 57.5M323.5 57.5L328.8 54.5" stroke="#ff0000" stroke-width="0.95"/>
<path d="M339.5 52.9L339.5 59.1M336.8 54.5L342.2 57.5M336.8 57.5L342.2 54.5" stroke="#ff0000" stroke-width="0.95"/>
<path d="M352.8 52.9L352.8 59.1M350.2 54.5L355.5 57.5M350.2 57.5L355.5 54.5" stroke="#ff0000" stroke-width="0.95"/>
<path d="M366.2 52.9L366.2 59.1M363.5 54.5L368.9 57.5M363.5 57.5L368.9 54.5" stroke="#ff0000" stroke-width="0.95"/>
<path d="M379.6 52.9L379.6 59.1M376.9 54.5L382.2 57.5M376.9 57.5L382.2 54.5" stroke="#ff0000" stroke-width="0.95"/>
<path d="M392.9 52.9L392.9 59.1M390.2 54.5L395.6 57.5M390.2 57.5L395.6 54.5" stroke="#ff0000" stroke-width="0.95"/>
<path d="M75.6 276.0V282.2" stroke="#339933" stroke-width="0.95"/>
<path d="M92.8 271.7V277.9" stroke="#339933" stroke-width="0.95"/>
<path d="M110.0 261.4V267.6" stroke="#339933" stroke-width="0.95"/>
<path d="M127.2 245.5V251.7" stroke="#339933" stroke-width="0.95"/>
<path d="M144.4 223.4V229.6" stroke="#339933" stroke-width="0.95"/>
<path d="M161.6 199.2V205.4" stroke="#339933" stroke-width="0.95"/>
<path d="M178.8 173.3V179.5" stroke="#339933" stroke-width="0.95"/>
<path d="M196.0 147.7V153.9" stroke="#339933" stroke-width="0.95"/>
<path d="M213.2 121.7V127.9" stroke="#339933" stroke-width="0.95"/>
<path d="M230.4 101.4V107.6" stroke="#339933" stroke-width="0.95"/>
<path d="M247.6 86.2V92.4" stroke="#339933" stroke-width="0.95"/>
<path d="M264.8 73.0V79.2" stroke="#339933" stroke-width="0.95"/>
<path d="M282.0 64.9V71.1" stroke="#339933" stroke-width="0.95"/>
<path d="M299.2 58.7V64.9" stroke="#339933" stroke-width="0.95"/>
<path d="M316.4 55.3V61.5" stroke="#339933" stroke-width="0.95"/>
<path d="M333.6 54.1V60.3" stroke="#339933" stroke-width="0.95"/>
<path d="M350.8 53.4V59.6" stroke="#339933" stroke-width="0.95"/>
<path d="M368.0 53.1V59.3" stroke="#339933" stroke-width="0.95"/>
<path d="M385.2 52.9V59.1" stroke="#339933" stroke-width="0.95"/>
<path d="M72.2 279.4L72.2 276.3M72.2 279.4L75.2 278.4M72.2 279.4L74.1 281.9M72.2 279.4L70.4 281.9M72.2 279.4L69.3 278.4" stroke="#fcc800" stroke-width="0.95"/>
<path d="M84.5 279.4L84.5 276.3M84.5 279.4L87.4 278.4M84.5 279.4L86.3 281.9M84.5 279.4L82.7 281.9M84.5 279.4L81.6 278.4" stroke="#fcc800" stroke-width="0.95"/>
<path d="M96.8 279.3L96.8 276.2M96.8 279.3L99.7 278.4M96.8 279.3L98.6 281.8M96.8 279.3L94.9 281.8M96.8 279.3L93.8 278.4" stroke="#fcc800" stroke-width="0.95"/>
<path d="M109.0 279.0L109.0 275.9M109.0 279.0L111.9 278.0M109.0 279.0L110.8 281.5M109.0 279.0L107.2 281.5M109.0 279.0L106.1 278.0" stroke="#fcc800" stroke-width="0.95"/>
<path d="M121.2 277.7L121.2 274.6M121.2 277.7L124.2 276.7M121.2 277.7L123.1 280.2M121.2 277.7L119.4 280.2M121.2 277.7L118.3 276.7" stroke="#fcc800" stroke-width="0.95"/>
<path d="M133.5 273.2L133.5 270.1M133.5 273.2L136.4 272.2M133.5 273.2L135.3 275.7M133.5 273.2L131.7 275.7M133.5 273.2L130.6 272.2" stroke="#fcc800" stroke-width="0.95"/>
<path d="M145.8 266.0L145.8 262.9M145.8 266.0L148.7 265.0M145.8 266.0L147.6 268.5M145.8 266.0L143.9 268.5M145.8 266.0L142.8 265.0" stroke="#fcc800" stroke-width="0.95"/>
<path d="M158.0 252.2L158.0 249.1M158.0 252.2L160.9 251.2M158.0 252.2L159.8 254.7M158.0 252.2L156.2 254.7M158.0 252.2L155.1 251.2" stroke="#fcc800" stroke-width="0.95"/>
<path d="M170.2 232.2L170.2 229.1M170.2 232.2L173.2 231.2M170.2 232.2L172.1 234.7M170.2 232.2L168.4 234.7M170.2 232.2L167.3 231.2" stroke="#fcc800" stroke-width="0.95"/>
<path d="M182.5 204.4L182.5 201.3M182.5 204.4L185.4 203.4M182.5 204.4L184.3 206.9M182.5 204.4L180.7 206.9M182.5 204.4L179.6 203.4" stroke="#fcc800" stroke-width="0.95"/>
<path d="M194.8 172.3L194.8 169.2M194.8 172.3L197.7 171.3M194.8 172.3L196.6 174.8M194.8 172.3L192.9 174.8M194.8 172.3L191.8 171.3" stroke="#fcc800" stroke-width="0.95"/>
<path d="M207.0 136.8L207.0 133.7M207.0 136.8L209.9 135.8M207.0 136.8L208.8 139.3M207.0 136.8L205.2 139.3M207.0 136.8L204.1 135.8" stroke="#fcc800" stroke-width="0.95"/>
<path d="M219.2 109.9L219.2 106.8M219.2 109.9L222.2 108.9M219.2 109.9L221.1 112.4M219.2 109.9L217.4 112.4M219.2 109.9L216.3 108.9" stroke="#fcc800" stroke-width="0.95"/>
<path d="M231.5 89.2L231.5 86.1M231.5 89.2L234.4 88.3M231.5 89.2L233.3 91.8M231.5 89.2L229.7 91.8M231.5 89.2L228.6 88.3" stroke="#fcc800" stroke-width="0.95"/>
<path d="M243.8 73.3L243.8 70.2M243.8 73.3L246.7 72.3M243.8 73.3L245.6 75.8M243.8 73.3L241.9 75.8M243.8 73.3L240.8 72.3" stroke="#fcc800" stroke-width="0.95"/>
<path d="M256.0 64.3L256.0 61.2M256.0 64.3L258.9 63.4M256.0 64.3L257.8 66.8M256.0 64.3L254.2 66.8M256.0 64.3L253.1 63.4" stroke="#fcc800" stroke-width="0.95"/>
<path d="M268.2 60.0L268.2 56.9M268.2 60.0L271.2 59.1M268.2 60.0L270.1 62.5M268.2 60.0L266.4 62.5M268.2 60.0L265.3 59.1" stroke="#fcc800" stroke-width="0.95"/>
<path d="M280.5 57.1L280.5 54.0M280.5 57.1L283.4 56.2M280.5 57.1L282.3 59.6M280.5 57.1L278.7 59.6M280.5 57.1L277.6 56.2" stroke="#fcc800" stroke-width="0.95"/>
<path d="M292.8 56.3L292.8 53.2M292.8 56.3L295.7 55.3M292.8 56.3L294.6 58.8M292.8 56.3L290.9 58.8M292.8 56.3L289.8 55.3" stroke="#fcc800" stroke-width="0.95"/>
<path d="M305.0 56.1L305.0 53.0M305.0 56.1L307.9 55.1M305.0 56.1L306.8 58.6M305.0 56.1L303.2 58.6M305.0 56.1L302.1 55.1" stroke="#fcc800" stroke-width="0.95"/>
<path d="M317.2 56.0L317.2 52.9M317.2 56.0L320.2 55.0M317.2 56.0L319.1 58.5M317.2 56.0L315.4 58.5M317.2 56.0L314.3 55.0" stroke="#fcc800" stroke-width="0.95"/>
<path d="M329.5 56.0L329.5 52.9M329.5 56.0L332.4 55.0M329.5 56.0L331.3 58.5M329.5 56.0L327.7 58.5M329.5 56.0L326.6 55.0" stroke="#fcc800" stroke-width="0.95"/>
<path d="M341.8 56.0L341.8 52.9M341.8 56.0L344.7 55.0M341.8 56.0L343.6 58.5M341.8 56.0L339.9 58.5M341.8 56.0L338.8 55.0" stroke="#fcc800" stroke-width="0.95"/>
<path d="M354.0 56.0L354.0 52.9M354.0 56.0L356.9 55.0M354.0 56.0L355.8 58.5M354.0 56.0L352.2 58.5M354.0 56.0L351.1 55.0" stroke="#fcc800" stroke-width="0.95"/>
<path d="M366.2 56.0L366.2 52.9M366.2 56.0L369.2 55.0M366.2 56.0L368.1 58.5M366.2 56.0L364.4 58.5M366.2 56.0L363.3 55.0" stroke="#fcc800" stroke-width="0.95"/>
<path d="M71.2 276.3L77.4 282.5M71.2 282.5L77.4 276.3" stroke="#1aaeea" stroke-width="0.95"/>
<path d="M92.5 275.8L98.7 282.0M92.5 282.0L98.7 275.8" stroke="#1aaeea" stroke-width="0.95"/>
<path d="M113.8 270.6L120.0 276.8M113.8 276.8L120.0 270.6" stroke="#1aaeea" stroke-width="0.95"/>
<path d="M135.1 256.3L141.3 262.5M135.1 262.5L141.3 256.3" stroke="#1aaeea" stroke-width="0.95"/>
<path d="M156.4 223.9L162.6 230.1M156.4 230.1L162.6 223.9" stroke="#1aaeea" stroke-width="0.95"/>
<path d="M177.7 179.5L183.9 185.7M177.7 185.7L183.9 179.5" stroke="#1aaeea" stroke-width="0.95"/>
<path d="M199.0 135.1L205.2 141.3M199.0 141.3L205.2 135.1" stroke="#1aaeea" stroke-width="0.95"/>
<path d="M220.3 100.8L226.5 107.0M220.3 107.0L226.5 100.8" stroke="#1aaeea" stroke-width="0.95"/>
<path d="M241.6 79.9L247.8 86.1M241.6 86.1L247.8 79.9" stroke="#1aaeea" stroke-width="0.95"/>
<path d="M262.9 67.1L269.1 73.3M262.9 73.3L269.1 67.1" stroke="#1aaeea" stroke-width="0.95"/>
<path d="M284.2 58.9L290.4 65.1M284.2 65.1L290.4 58.9" stroke="#1aaeea" stroke-width="0.95"/>
<path d="M305.5 55.2L311.7 61.4M305.5 61.4L311.7 55.2" stroke="#1aaeea" stroke-width="0.95"/>
<path d="M326.8 53.5L333.0 59.7M326.8 59.7L333.0 53.5" stroke="#1aaeea" stroke-width="0.95"/>
<path d="M348.1 53.0L354.3 59.2M348.1 59.2L354.3 53.0" stroke="#1aaeea" stroke-width="0.95"/>
<path d="M369.4 52.9L375.6 59.1M369.4 59.1L375.6 52.9" stroke="#1aaeea" stroke-width="0.95"/>
<path d="M390.7 52.9L396.9 59.1M390.7 59.1L396.9 52.9" stroke="#1aaeea" stroke-width="0.95"/>
<rect x="93.0" y="276.3" width="6.2" height="6.2" fill="none" stroke="#000000" stroke-width="0.95"/>
<rect x="107.6" y="276.2" width="6.2" height="6.2" fill="none" stroke="#000000" stroke-width="0.95"/>
<rect x="122.2" y="275.9" width="6.2" height="6.2" fill="none" stroke="#000000" stroke-width="0.95"/>
<rect x="136.8" y="274.7" width="6.2" height="6.2" fill="none" stroke="#000000" stroke-width="0.95"/>
<rect x="151.4" y="269.4" width="6.2" height="6.2" fill="none" stroke="#000000" stroke-width="0.95"/>
<rect x="166.0" y="251.6" width="6.2" height="6.2" fill="none" stroke="#000000" stroke-width="0.95"/>
<rect x="180.6" y="213.9" width="6.2" height="6.2" fill="none" stroke="#000000" stroke-width="0.95"/>
<rect x="195.2" y="163.4" width="6.2" height="6.2" fill="none" stroke="#000000" stroke-width="0.95"/>
<rect x="209.8" y="114.2" width="6.2" height="6.2" fill="none" stroke="#000000" stroke-width="0.95"/>
<rect x="224.4" y="80.8" width="6.2" height="6.2" fill="none" stroke="#000000" stroke-width="0.95"/>
<rect x="239.0" y="62.8" width="6.2" height="6.2" fill="none" stroke="#000000" stroke-width="0.95"/>
<rect x="253.6" y="56.0" width="6.2" height="6.2" fill="none" stroke="#000000" stroke-width="0.95"/>
<rect x="268.2" y="53.6" width="6.2" height="6.2" fill="none" stroke="#000000" stroke-width="0.95"/>
<rect x="282.8" y="53.0" width="6.2" height="6.2" fill="none" stroke="#000000" stroke-width="0.95"/>
<rect x="297.4" y="52.9" width="6.2" height="6.2" fill="none" stroke="#000000" stroke-width="0.95"/>
<rect x="312.0" y="52.9" width="6.2" height="6.2" fill="none" stroke="#000000" stroke-width="0.95"/>
<rect x="326.6" y="52.9" width="6.2" height="6.2" fill="none" stroke="#000000" stroke-width="0.95"/>
</g>
<rect x="71.75" y="11.25" width="323.25" height="268.15" fill="none" stroke="#000" stroke-width="0.9"/>
<rect x="251.75" y="165.0" width="133.25" height="106.30000000000001" fill="#fff" stroke="#000" stroke-width="0.9"/>
<path d="M257.2 176.8H285.6" stroke="#0000ff" stroke-width="1.6" fill="none"/>
<path d="M257.2 193.3H285.6" stroke="#ff0000" stroke-width="1.6" stroke-dasharray="1.6 1.4" fill="none"/>
<path d="M257.2 209.8H285.6" stroke="#339933" stroke-width="1.6" stroke-dasharray="5 5" fill="none"/>
<path d="M257.2 226.3H285.6" stroke="#fcc800" stroke-width="1.6" stroke-dasharray="1.7 3.0" fill="none"/>
<path d="M257.2 242.9H285.6" stroke="#1aaeea" stroke-width="1.6" stroke-dasharray="5 3.3 1.4 3.3" fill="none"/>
<path d="M257.2 259.4H285.6" stroke="#000000" stroke-width="1.6" stroke-dasharray="4.2 2.0" fill="none"/>
</svg>
<div class="t xt" style="left:71.8px">0</div>
<div class="t xt" style="left:136.4px">0.5</div>
<div class="t xt" style="left:201.1px">1</div>
<div class="t xt" style="left:265.7px">1.5</div>
<div class="t xt" style="left:330.4px">2</div>
<div class="t xt" style="left:395.0px">2.5</div>
<div class="t yt" style="top:272.1px">0</div>
<div class="t yt" style="top:227.4px">0.2</div>
<div class="t yt" style="top:182.7px">0.4</div>
<div class="t yt" style="top:138.0px">0.6</div>
<div class="t yt" style="top:93.3px">0.8</div>
<div class="t yt" style="top:48.6px">1</div>
<div class="t yt" style="top:3.9px">1.2</div>
<div class="t" style="left:233.2px;top:304px;transform:translateX(-50%) scaleX(1.15);font-style:italic;">x</div>
<div class="t" style="left:13px;top:144.8px;transform:translate(-50%,-50%) rotate(-90deg) scaleX(1.2);"><i>F</i><sub style="font-size:12px;line-height:0;vertical-align:-3.5px;"><i>R</i></sub>(<i>x</i>)</div>
<span class="lg" style="left:290.0px;top:170.1px;transform:scaleX(1.35);font-style:italic;">κ</span>
<span class="lg" style="left:301.7px;top:171.4px;transform:scaleX(1.8);">=</span>
<span class="lg" style="left:315.9px;top:170.1px;transform:scaleX(1.2);">1</span>
<span class="lg" style="left:322.6px;top:170.1px;transform:scaleX(1.2);">,</span>
<span class="lg" style="left:327.9px;top:170.1px;transform:scaleX(1.3);font-style:italic;">η</span>
<span class="lg" style="left:338.5px;top:171.4px;transform:scaleX(1.8);">=</span>
<span class="lg" style="left:352.9px;top:170.1px;transform:scaleX(1.2);">0.1</span>
<span class="lg" style="left:290.0px;top:186.6px;transform:scaleX(1.35);font-style:italic;">κ</span>
<span class="lg" style="left:301.7px;top:187.9px;transform:scaleX(1.8);">=</span>
<span class="lg" style="left:315.9px;top:186.6px;transform:scaleX(1.2);">10</span>
<span class="lg" style="left:329.0px;top:186.6px;transform:scaleX(1.2);">,</span>
<span class="lg" style="left:334.3px;top:186.6px;transform:scaleX(1.3);font-style:italic;">η</span>
<span class="lg" style="left:344.9px;top:187.9px;transform:scaleX(1.8);">=</span>
<span class="lg" style="left:359.3px;top:186.6px;transform:scaleX(1.2);">0.1</span>
<span class="lg" style="left:290.0px;top:203.1px;transform:scaleX(1.35);font-style:italic;">κ</span>
<span class="lg" style="left:301.7px;top:204.4px;transform:scaleX(1.8);">=</span>
<span class="lg" style="left:315.9px;top:203.1px;transform:scaleX(1.2);">1</span>
<span class="lg" style="left:322.6px;top:203.1px;transform:scaleX(1.2);">,</span>
<span class="lg" style="left:327.9px;top:203.1px;transform:scaleX(1.3);font-style:italic;">η</span>
<span class="lg" style="left:338.5px;top:204.4px;transform:scaleX(1.8);">=</span>
<span class="lg" style="left:352.9px;top:203.1px;transform:scaleX(1.2);">1</span>
<span class="lg" style="left:290.0px;top:219.6px;transform:scaleX(1.35);font-style:italic;">κ</span>
<span class="lg" style="left:301.7px;top:220.9px;transform:scaleX(1.8);">=</span>
<span class="lg" style="left:315.9px;top:219.6px;transform:scaleX(1.2);">10</span>
<span class="lg" style="left:329.0px;top:219.6px;transform:scaleX(1.2);">,</span>
<span class="lg" style="left:334.3px;top:219.6px;transform:scaleX(1.3);font-style:italic;">η</span>
<span class="lg" style="left:344.9px;top:220.9px;transform:scaleX(1.8);">=</span>
<span class="lg" style="left:359.3px;top:219.6px;transform:scaleX(1.2);">1</span>
<span class="lg" style="left:290.0px;top:236.2px;transform:scaleX(1.35);font-style:italic;">κ</span>
<span class="lg" style="left:301.7px;top:237.5px;transform:scaleX(1.8);">=</span>
<span class="lg" style="left:315.9px;top:236.2px;transform:scaleX(1.2);">1</span>
<span class="lg" style="left:322.6px;top:236.2px;transform:scaleX(1.2);">,</span>
<span class="lg" style="left:327.9px;top:236.2px;transform:scaleX(1.3);font-style:italic;">η</span>
<span class="lg" style="left:338.5px;top:237.5px;transform:scaleX(1.8);">=</span>
<span class="lg" style="left:352.9px;top:236.2px;transform:scaleX(1.2);">10</span>
<span class="lg" style="left:290.0px;top:252.7px;transform:scaleX(1.35);font-style:italic;">κ</span>
<span class="lg" style="left:301.7px;top:254.0px;transform:scaleX(1.8);">=</span>
<span class="lg" style="left:315.9px;top:252.7px;transform:scaleX(1.2);">10</span>
<span class="lg" style="left:329.0px;top:252.7px;transform:scaleX(1.2);">,</span>
<span class="lg" style="left:334.3px;top:252.7px;transform:scaleX(1.3);font-style:italic;">η</span>
<span class="lg" style="left:344.9px;top:254.0px;transform:scaleX(1.8);">=</span>
<span class="lg" style="left:359.3px;top:252.7px;transform:scaleX(1.2);">10</span>
</body></html>
